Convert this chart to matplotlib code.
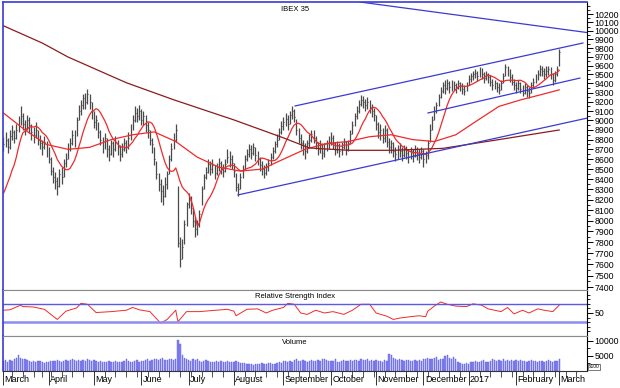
import numpy as np
import pandas as pd
import matplotlib
matplotlib.use("Agg")
import matplotlib.pyplot as plt
from matplotlib.ticker import FixedLocator, NullFormatter, FuncFormatter
import matplotlib.transforms as mtransforms

plt.rcParams['font.family'] = ['Liberation Sans', 'DejaVu Sans']

# sesiones del IBEX (sin festivos)
festivos = ['2016-03-25', '2016-03-28', '2016-12-26']
dias = pd.bdate_range('2016-03-01', '2017-03-20')
dias = dias[~dias.isin(pd.to_datetime(festivos))]

# cierres de las 9 sesiones anteriores (solo para la media corta)
cierres_previos = [8300, 8150, 8300, 8200, 8300, 8100, 8000, 8200, 8300]

# barras diarias (mar-2016 .. 1-mar-2017)
highs = [
    8830, 8880, 8820, 8900, 8950, 8900, 8960, 9050, 9150, 9080, 9000, 9060, 9040, 8960, 8930, 8980, 8900, 8850, 8800, 8840, 8790,
    8720, 8620, 8520, 8470, 8420, 8500, 8520, 8600, 8660, 8760, 8820, 8900, 8900, 9040, 9160, 9220, 9290, 9300, 9340, 9280, 9200,
    9100, 9060, 8980, 8900, 8830, 8870, 8820, 8740, 8800, 8790, 8840, 8800, 8740, 8760, 8820, 8800, 8880, 8960, 9060, 9150, 9130, 9160,
    9120, 9100, 9060, 8980, 8900, 8820, 8720, 8580, 8460, 8400, 8340, 8420, 8480, 8640, 8760, 8870, 8960, 8330, 7850, 7830, 8010, 8180,
    8260, 8240, 8120, 8030, 8010, 8100, 8330, 8450, 8520, 8600, 8580, 8600, 8540, 8560, 8610, 8580, 8550, 8600, 8700, 8680, 8640,
    8560, 8460, 8360, 8460, 8540, 8640, 8700, 8750, 8740, 8770, 8720, 8680, 8620, 8580, 8540, 8560, 8600, 8660, 8720, 8790, 8860, 8920, 8990,
    9040, 9080, 9060, 9100, 9150, 9120, 9020, 8920, 8860, 8800, 8760, 8800, 8860, 8900, 8900, 8840, 8780, 8800, 8760, 8760, 8800, 8840,
    8880, 8850, 8780, 8790, 8760, 8780, 8820, 8790, 8800, 8900, 8990, 9080, 9150, 9220, 9270, 9260, 9230, 9250, 9220, 9180, 9130,
    9060, 8980, 8960, 8920, 8950, 8920, 8820, 8800, 8780, 8720, 8740, 8760, 8720, 8740, 8730, 8700, 8720, 8700, 8740, 8720, 8700, 8720,
    8700, 8680, 8800, 8960, 9050, 9150, 9200, 9290, 9360, 9420, 9440, 9450, 9430, 9440, 9430, 9410, 9440, 9420, 9400, 9380, 9420,
    9490, 9520, 9540, 9560, 9540, 9580, 9570, 9530, 9540, 9520, 9490, 9450, 9440, 9420, 9400, 9440, 9520, 9620, 9600, 9560, 9500, 9450,
    9420, 9440, 9420, 9380, 9400, 9380, 9360, 9420, 9460, 9500, 9550, 9610, 9600, 9570, 9590, 9600, 9580, 9520, 9540, 9600,
    9790,
]
lows = [
    8680, 8720, 8660, 8700, 8800, 8760, 8810, 8880, 8950, 8900, 8850, 8900, 8870, 8800, 8760, 8820, 8740, 8700, 8640, 8700, 8620,
    8560, 8440, 8360, 8300, 8250, 8320, 8350, 8420, 8520, 8600, 8680, 8740, 8720, 8840, 9000, 9060, 9120, 9120, 9180, 9120, 9020,
    8920, 8900, 8820, 8740, 8660, 8700, 8620, 8580, 8640, 8620, 8680, 8640, 8580, 8620, 8680, 8660, 8700, 8800, 8900, 8980, 8980, 9000,
    8950, 8950, 8880, 8820, 8740, 8660, 8540, 8400, 8280, 8180, 8150, 8230, 8300, 8450, 8580, 8700, 8780, 7760, 7580, 7650, 7780, 7950,
    8120, 8060, 7940, 7850, 7870, 7940, 8150, 8300, 8400, 8460, 8440, 8460, 8400, 8440, 8480, 8450, 8420, 8470, 8560, 8520, 8500,
    8420, 8280, 8240, 8300, 8410, 8500, 8580, 8620, 8600, 8640, 8580, 8540, 8480, 8440, 8410, 8440, 8480, 8540, 8600, 8660, 8720, 8800, 8860,
    8900, 8940, 8900, 8960, 9020, 8980, 8850, 8760, 8700, 8640, 8600, 8660, 8720, 8780, 8760, 8700, 8640, 8660, 8600, 8620, 8680, 8700,
    8740, 8700, 8640, 8660, 8620, 8640, 8700, 8640, 8680, 8760, 8860, 8940, 9020, 9080, 9150, 9130, 9100, 9120, 9080, 9040, 8990,
    8900, 8820, 8800, 8760, 8780, 8720, 8660, 8660, 8620, 8580, 8600, 8620, 8580, 8620, 8600, 8560, 8600, 8570, 8620, 8590, 8560, 8600,
    8520, 8560, 8600, 8780, 8900, 9000, 9080, 9150, 9240, 9300, 9280, 9330, 9300, 9320, 9330, 9300, 9340, 9320, 9290, 9270, 9320,
    9380, 9420, 9440, 9460, 9430, 9470, 9450, 9410, 9440, 9400, 9370, 9330, 9340, 9310, 9280, 9330, 9400, 9480, 9480, 9420, 9380, 9330,
    9300, 9330, 9300, 9260, 9290, 9250, 9240, 9300, 9350, 9400, 9440, 9480, 9480, 9450, 9470, 9490, 9450, 9380, 9420, 9480,
    9600,
]
closes = [
    8750, 8800, 8720, 8840, 8880, 8820, 8900, 8980, 9050, 8960, 8920, 9000, 8950, 8880, 8850, 8900, 8800, 8760, 8720, 8780, 8700,
    8600, 8480, 8420, 8380, 8330, 8450, 8420, 8560, 8600, 8700, 8760, 8850, 8820, 9000, 9100, 9160, 9240, 9200, 9280, 9200, 9100,
    8980, 9000, 8880, 8800, 8740, 8820, 8700, 8650, 8760, 8700, 8780, 8720, 8650, 8700, 8760, 8720, 8820, 8900, 9000, 9080, 9050, 9100,
    9000, 9050, 8950, 8900, 8800, 8750, 8600, 8450, 8350, 8280, 8240, 8350, 8450, 8600, 8700, 8800, 8900, 7790, 7650, 7760, 7970, 8160,
    8200, 8120, 8000, 7920, 7960, 8060, 8300, 8420, 8470, 8550, 8500, 8540, 8460, 8520, 8560, 8510, 8480, 8550, 8620, 8600, 8560,
    8480, 8320, 8300, 8420, 8500, 8600, 8650, 8700, 8660, 8720, 8640, 8600, 8540, 8500, 8460, 8520, 8560, 8620, 8680, 8750, 8800, 8880, 8940,
    8980, 9020, 8960, 9060, 9100, 9040, 8900, 8820, 8760, 8700, 8680, 8760, 8800, 8860, 8820, 8760, 8700, 8740, 8660, 8700, 8760, 8780,
    8820, 8760, 8700, 8740, 8680, 8720, 8780, 8700, 8760, 8860, 8950, 9050, 9100, 9180, 9220, 9200, 9160, 9200, 9140, 9100, 9060,
    8960, 8880, 8900, 8820, 8900, 8780, 8720, 8760, 8680, 8650, 8700, 8680, 8640, 8700, 8660, 8620, 8680, 8640, 8700, 8650, 8620, 8680,
    8600, 8640, 8760, 8900, 9000, 9100, 9160, 9250, 9320, 9380, 9350, 9400, 9360, 9400, 9380, 9350, 9400, 9370, 9340, 9320, 9380,
    9450, 9480, 9500, 9520, 9480, 9540, 9500, 9460, 9500, 9470, 9420, 9380, 9400, 9360, 9330, 9400, 9480, 9580, 9540, 9470, 9420, 9380,
    9350, 9400, 9340, 9300, 9360, 9320, 9300, 9380, 9420, 9460, 9500, 9560, 9540, 9500, 9540, 9560, 9500, 9440, 9500, 9560,
    9760,
]
volumen = [
    3300, 3500, 3100, 3600, 3400, 3800, 4200, 5100, 4300, 3900, 4100, 3500, 3300, 3000, 3200, 3100, 3400, 3300, 2800, 2700, 2900,
    3000, 3300, 3400, 3200, 3500, 3300, 3100, 3400, 3600, 3300, 3500, 4000, 3600, 3400, 3500, 3300, 3600, 3400, 3800, 3500, 3300,
    3600, 3200, 3100, 3300, 3000, 2900, 3100, 3300, 2800, 3000, 3400, 3100, 2900, 3000, 3200, 3800, 3300, 3000, 3100, 3300, 3500, 3000,
    3200, 3400, 3600, 3900, 3300, 3500, 4100, 3800, 3600, 4000, 4300, 3700, 3500, 3900, 4100, 3600, 3800, 10200, 8800, 5200, 4300, 3900,
    3500, 3300, 4000, 3600, 3900, 3400, 3100, 3200, 3500, 3300, 3000, 2800, 3000, 3300, 3100, 3400, 3000, 2900, 3200, 3000, 2800,
    2900, 3200, 3000, 2700, 2600, 2500, 2300, 2400, 2200, 2100, 2300, 2400, 2200, 2500, 2300, 2400, 2600, 2500, 2300, 2400, 2700, 2900, 2500,
    3200, 3300, 3000, 3400, 3100, 3600, 3800, 3300, 3200, 3500, 3400, 3100, 3300, 3600, 3200, 3400, 3500, 3300, 3800, 4100, 3500, 3400,
    3200, 3400, 3800, 3100, 3000, 3300, 3500, 3200, 3400, 3600, 3300, 3500, 3700, 3400, 3900, 3600, 3500, 3800, 3400, 3600, 3300,
    3500, 3200, 3400, 3100, 3600, 3300, 5500, 5400, 4200, 3800, 3600, 3900, 3500, 3300, 3600, 3700, 3400, 3200, 3500, 3300, 3600, 3400,
    4100, 3800, 4300, 4000, 3900, 4200, 4500, 3700, 3900, 4100, 4800, 5300, 4200, 3800, 4500, 4000, 2800, 2500, 2300, 2200, 2500,
    2400, 3000, 2900, 3300, 3100, 2800, 3200, 3500, 3100, 3000, 3300, 3800, 3500, 3200, 3600, 3400, 3900, 3300, 3600, 3200, 3500, 3300,
    3500, 3200, 3600, 3300, 3400, 3100, 3300, 3500, 3200, 3400, 3100, 3300, 3400, 3000, 3200, 3500, 3300, 3000, 3200, 3300,
    3900,
]

# medias largas (barra, valor)
mm_media_x = [0, 10, 20, 30, 40, 50, 60, 70, 80, 90, 100, 110, 120, 130, 140, 150, 160, 170, 180, 190, 200, 210, 220, 230, 240, 250, 258]
mm_media = [9080, 8900, 8750, 8700, 8720, 8800, 8850, 8880, 8780, 8620, 8520, 8480, 8500, 8600, 8700, 8760, 8780, 8830, 8850,
            8800, 8780, 8850, 9000, 9150, 9220, 9280, 9330]
mm_larga_x = [0, 18, 30, 57, 79, 107, 130, 142, 160, 181, 204, 230, 258]
mm_larga = [10060, 9858, 9697, 9409, 9222, 9006, 8818, 8714, 8690, 8690, 8710, 8800, 8900]

rsi_x = [0, 3, 8, 9, 14, 19, 25, 29, 34, 36, 39, 43, 50, 57, 60, 63, 68, 73, 76, 80, 81, 85, 91, 96, 104, 107, 108,
         113, 118, 122, 125, 130, 132, 135, 138, 141, 145, 149, 153, 158, 162, 166, 170, 173, 178, 181, 184, 189, 193,
         196, 197, 200, 203, 206, 210, 215, 218, 222, 225, 231, 234, 237, 241, 244, 248, 251, 255, 258]
rsi_v = [56, 57, 67, 64, 63, 58, 36, 54, 61, 71, 69, 51, 53, 56, 62, 57, 53, 28, 36, 56, 31, 53, 53, 55, 58, 54, 44,
         58, 59, 50, 56, 62, 71, 69, 50, 47, 56, 50, 53, 47, 56, 69, 69, 50, 43, 36, 39, 42, 44,
         42, 54, 65, 74, 69, 65, 64, 70, 67, 59, 53, 62, 48, 56, 50, 59, 56, 53, 67]

# lineas de tendencia (barra, precio)
tend_sup_x, tend_sup = [165.5, 271.0], [10345, 9980]
canal_sup_x, canal_sup = [135.4, 269.0], [9155, 9858]
canal_inf_x, canal_inf = [197.1, 267.6], [9080, 9460]
soporte_x, soporte = [108.9, 271.3], [8246, 9027]

meses = ['March', 'April', 'May', 'June', 'July', 'August', 'September', 'October',
         'November', 'December', '2017', 'February', 'March']

n = len(closes)
idx = np.arange(n)
x_max = 270.9

# media corta de 10 sesiones
serie = pd.Series(cierres_previos + closes, dtype=float)
mm_corta = serie.rolling(10, min_periods=1).mean().iloc[len(cierres_previos):].values

AZUL = '#3a3ad6'
ROJO = '#f02a2a'
GRIS = '#8a8a8a'

fig = plt.figure(figsize=(6.2, 3.88), dpi=100)
W, H = 620, 388


def panel(y0, y1):
    return fig.add_axes([3 / W, 1 - y1 / H, 584 / W, (y1 - y0) / H])


ax = panel(2, 290)
ax_rsi = panel(290, 336)
ax_vol = panel(336, 371)

# --- precio ---
ax.vlines(idx, lows, highs, color='#4a4a4a', lw=0.9)
ax.hlines(closes, idx, idx + 0.45, color='#4a4a4a', lw=0.8)
ax.plot(idx, mm_corta, color=ROJO, lw=0.9)
ax.plot(mm_media_x, mm_media, color=ROJO, lw=0.9)
ax.plot(mm_larga_x, mm_larga, color='#8b1c1c', lw=0.9)
for lx, ly in [(tend_sup_x, tend_sup), (canal_sup_x, canal_sup),
               (canal_inf_x, canal_inf), (soporte_x, soporte)]:
    ax.plot(lx, ly, color=AZUL, lw=0.9)
ax.set_yscale('log')
ax.set_ylim(7374, 10345)
ax.yaxis.set_major_locator(FixedLocator(list(range(7400, 10201, 100))))
ax.yaxis.set_minor_locator(FixedLocator([v + 50 for v in range(7400, 10201, 100)] + [10300]))
ax.yaxis.set_major_formatter(FuncFormatter(lambda v, p: f'{v:.0f}'))
ax.yaxis.set_minor_formatter(NullFormatter())
ax.text(0.5, 0.985, 'IBEX 35', transform=ax.transAxes, ha='center', va='top', fontsize=5.5)

# --- RSI ---
ax_rsi.plot(rsi_x, rsi_v, color=ROJO, lw=0.7)
ax_rsi.axhline(70, color='#5a5ae6', lw=1.0)
ax_rsi.axhline(30, color='#8c8cf2', lw=1.8)
ax_rsi.set_ylim(0, 100)
ax_rsi.yaxis.set_major_locator(FixedLocator([50]))
ax_rsi.yaxis.set_minor_locator(FixedLocator([10, 20, 30, 40, 60, 70, 80, 90]))
ax_rsi.text(0.5, 0.93, 'Relative Strength Index', transform=ax_rsi.transAxes,
            ha='center', va='top', fontsize=5.5)

# --- volumen ---
ax_vol.bar(idx, volumen, width=0.6, color='#8484f2', edgecolor='#5c5ce0', lw=0.3)
ax_vol.set_ylim(0, 11500)
ax_vol.yaxis.set_major_locator(FixedLocator([5000, 10000]))
ax_vol.yaxis.set_minor_locator(FixedLocator([2500, 7500]))
ax_vol.text(0.5, 0.9, 'Volume', transform=ax_vol.transAxes, ha='center', va='top', fontsize=5.5)
fig.text(589 / W, 1 - 367 / H, 'x100', fontsize=3.5, va='center', ha='left',
         bbox=dict(boxstyle='square,pad=0.15', fc='white', ec='#444444', lw=0.5))

# ejes
ini_mes = [i for i in range(len(dias)) if i == 0 or dias[i].month != dias[i - 1].month]
ini_mes = [i for i in ini_mes if i < x_max]
ini_sem = [i for i in range(1, len(dias)) if dias[i].weekday() < dias[i - 1].weekday() and i < x_max]

for a in (ax, ax_rsi, ax_vol):
    a.set_xlim(-0.2, x_max)
    a.set_facecolor('white')
    a.yaxis.tick_right()
    a.tick_params(axis='y', which='major', direction='out', length=4, width=0.7,
                  labelsize=6.3, pad=1.5, colors='black')
    a.tick_params(axis='y', which='minor', direction='out', length=2, width=0.6)
    a.spines['left'].set_color(AZUL)
    a.spines['left'].set_linewidth(1.2)
    a.spines['right'].set_color('black')
    a.spines['right'].set_linewidth(0.8)
    a.spines['top'].set_color(GRIS)
    a.spines['bottom'].set_color(GRIS)
    a.set_xticks([])

ax.spines['top'].set_color(AZUL)
ax.spines['top'].set_linewidth(1.2)

ax_vol.xaxis.set_major_locator(FixedLocator(ini_mes))
ax_vol.xaxis.set_minor_locator(FixedLocator([i for i in ini_sem if i not in ini_mes]))
ax_vol.xaxis.set_major_formatter(NullFormatter())
ax_vol.tick_params(axis='x', which='major', direction='out', length=10, width=0.7, colors='#333333')
ax_vol.tick_params(axis='x', which='minor', direction='out', length=4, width=0.6, colors='#333333')
ax_vol.spines['bottom'].set_color('#333333')
trans = mtransforms.blended_transform_factory(ax_vol.transData, ax_vol.transAxes)
for i, nombre in zip(ini_mes, meses):
    ax_vol.text(i + 0.6, -0.12, nombre, transform=trans, ha='left', va='top', fontsize=6.5)

fig.savefig('out.png', dpi=100, facecolor='white')
